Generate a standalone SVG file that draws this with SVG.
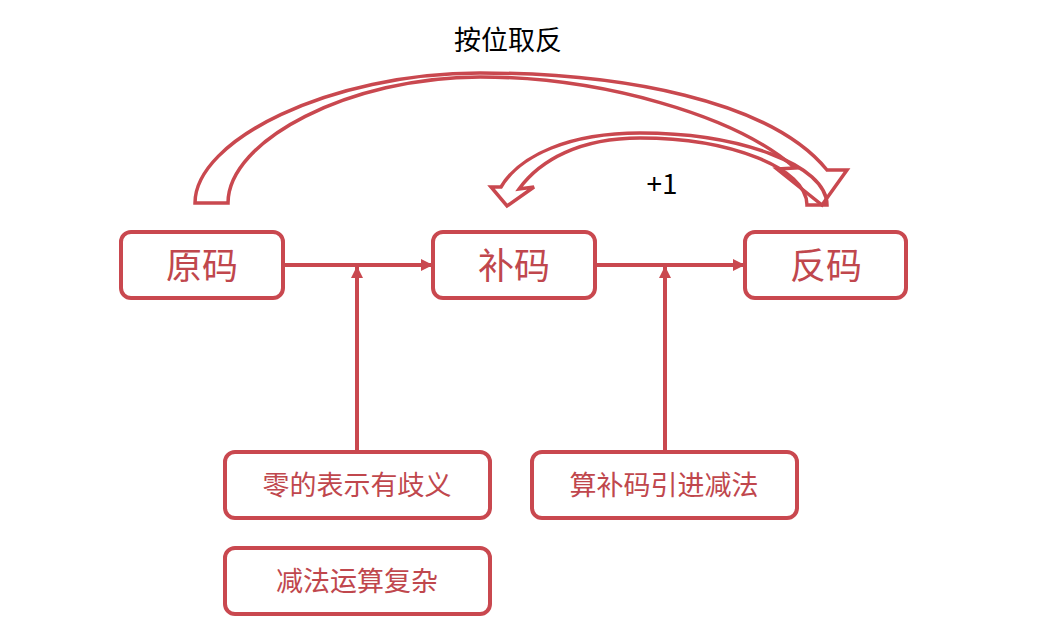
<svg xmlns="http://www.w3.org/2000/svg" width="1064" height="635" viewBox="0 0 1064 635">
<defs>
<style>
.box{fill:#fff;stroke:#c9484f;stroke-width:4}
.lbl{fill:#c0474d;font-family:"Noto Sans CJK SC","Noto Sans",sans-serif;text-anchor:middle}
.big{font-size:36px}
.small{font-size:27px}
.conn{stroke:#c9484f;stroke-width:4;fill:none}
.block{fill:none;stroke:#c9484f;stroke-width:3.5;stroke-linejoin:miter}
.note{fill:#000;font-family:"Noto Sans CJK SC","Noto Sans",sans-serif;text-anchor:middle}
</style>
<marker id="ah" viewBox="0 0 12 12" refX="11" refY="6" markerWidth="12" markerHeight="12" markerUnits="userSpaceOnUse" orient="auto">
<path d="M0,0 L12,6 L0,12 Z" fill="#c9484f"/>
</marker>
</defs>
<g id="connectors">
<line class="conn" x1="285" y1="265" x2="432" y2="265" marker-end="url(#ah)"/>
<line class="conn" x1="357" y1="451" x2="357" y2="267" marker-end="url(#ah)"/>
<line class="conn" x1="597" y1="265" x2="744" y2="265" marker-end="url(#ah)"/>
<line class="conn" x1="665" y1="451" x2="665" y2="267" marker-end="url(#ah)"/>
<path id="arc-invert" class="block" d="M195,203 C195,140 330,73 480,73 C620,73 770,100 827,170 L847,170 L822,205 L777,169 L795,168 C735,115 600,77 480,77 C350,77 228,140 228,203 Z"/>
<path id="arc-plus1" class="block" d="M827,205 C827,165 740,133 640,133 C570,133 520,155 501,187 L491,187 L507,206 L534,187 L519,189 C540,160 580,138 640,138 C730,138 807,168 807,205 Z"/>
<text class="note" x="508" y="50" font-size="27">按位取反</text>
<text class="note" x="662" y="194" font-size="28">+1</text>
</g>
<g id="node-yuanma">
<rect class="box" x="121" y="232" width="162" height="66" rx="10"/>
<text class="lbl big" x="202" y="279">原码</text>
</g>
<g id="node-buma">
<rect class="box" x="433" y="232" width="162" height="66" rx="10"/>
<text class="lbl big" x="514" y="279">补码</text>
</g>
<g id="node-fanma">
<rect class="box" x="745" y="232" width="161" height="66" rx="10"/>
<text class="lbl big" x="826" y="279">反码</text>
</g>
<g id="node-zero">
<rect class="box" x="225" y="452" width="265" height="66" rx="10"/>
<text class="lbl small" x="357" y="495">零的表示有歧义</text>
</g>
<g id="node-sub">
<rect class="box" x="225" y="548" width="265" height="66" rx="10"/>
<text class="lbl small" x="357" y="591">减法运算复杂</text>
</g>
<g id="node-comp">
<rect class="box" x="532" y="452" width="265" height="66" rx="10"/>
<text class="lbl small" x="664" y="495">算补码引进减法</text>
</g>
</svg>
